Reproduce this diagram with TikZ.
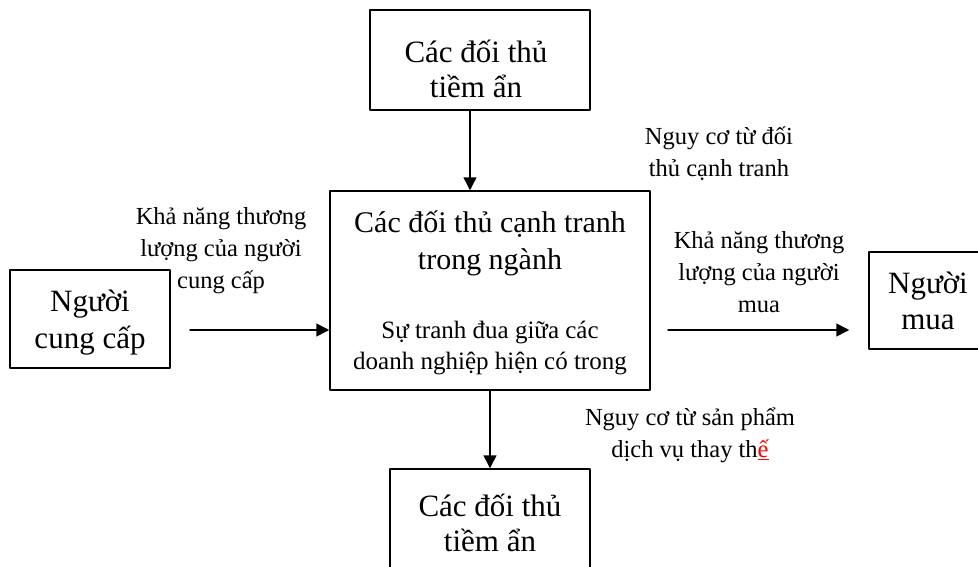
\documentclass[tikz,border=0pt]{standalone}
\usepackage{fontspec}
\setmainfont{Liberation Serif}
\usetikzlibrary{arrows.meta,calc}
\tikzset{
  box/.style={draw, line width=1.5pt, align=center, inner sep=0pt,
    font=\fontsize{31}{36}\selectfont},
  title/.style={align=center, inner sep=0pt, font=\fontsize{31}{35}\selectfont},
  lbl/.style={align=center, inner sep=0pt, font=\fontsize{24.5}{32}\selectfont},
  arr/.style={line width=1.5pt, -{Triangle[length=13pt,width=13pt]}}
}
\begin{document}
\begin{tikzpicture}[x=1pt, y=-1pt, line cap=round, line join=round]
            \useasboundingbox (0,0) rectangle (978,566);
            \clip (0,0) rectangle (978,566);
            % the five boxes
            \node[box, minimum width=220pt, minimum height=100pt](entrant) at (480,60){};
            \node[box, minimum width=320pt, minimum height=199pt](rivals) at (490,290.5){};
            \node[box, minimum width=160pt, minimum height=98pt](supplier) at (90,319){};
            \node[box, minimum width=118pt, minimum height=97pt](buyer) at (928,300.5){Người\\mua};
            \node[box, minimum width=200pt, minimum height=100pt](subst) at (490,519){};
            \node[title](entrantT) at (476,69){Các đối thủ\\tiềm ẩn};
            \node[title](substT) at (490,523){Các đối thủ\\tiềm ẩn};
            \node[title, font=\fontsize{31}{37}\selectfont](supplierT) at (90,323){Người\\cung cấp};
            \node[title, font=\fontsize{30}{37}\selectfont](rivalsT) at (490,243){Các đối thủ cạnh tranh\\trong ngành};
            \node[title, font=\fontsize{25}{31}\selectfont](rivalsS) at (490,348){Sự tranh đua giữa các\\doanh nghiệp hiện có trong};
            % labels of the forces
            \node[lbl](lSupplier) at (221,251){Khả năng thương\\lượng của người\\cung cấp};
            \node[lbl](lThreat) at (719,154){Nguy cơ từ đối\\thủ cạnh tranh};
            \node[lbl](lBuyer) at (759,272){Khả năng thương\\lượng của người\\mua};
            \node[lbl](lSubst) at (690,435){Nguy cơ từ sản phẩm\\dịch vụ thay th{\color{red}\underline{ế}}};
            % arrows
            \coordinate (s1) at (190,330);
            \coordinate (b1) at (668,330);
            \draw[arr]([xshift=-10pt]entrant.south)--([xshift=-10pt]entrant.south|-rivals.north);
            \draw[arr](s1)--(s1-|rivals.west);
            \draw[arr](b1)--([xshift=-19pt]b1-|buyer.west);
            \draw[arr](rivals.south)--(subst.north);
\end{tikzpicture}
\end{document}
